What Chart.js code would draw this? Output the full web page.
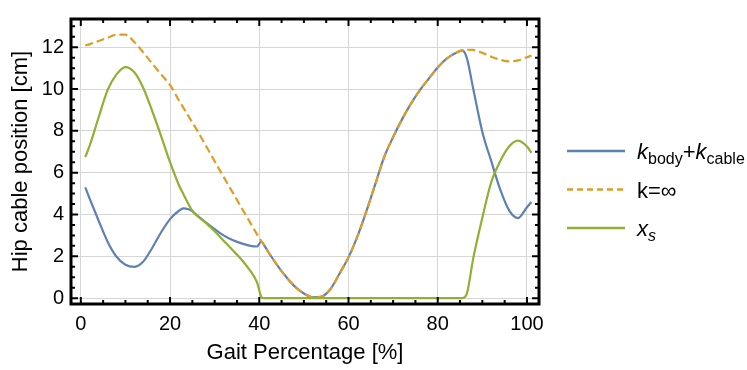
<!DOCTYPE html>
<html>
<head>
<meta charset="utf-8">
<script src="https://cdn.jsdelivr.net/npm/chart.js@4.4.1/dist/chart.umd.min.js"></script>
<style>
  html, body { margin: 0; background: #fff; }
</style>
</head>
<body>
<canvas id="chart" width="747" height="370"></canvas>
<script>
// gait percentage samples (shared x values)
const gait = [1, 2, 4, 6, 8, 10, 12, 14, 16, 18, 20, 22, 23, 24, 25, 26, 28, 30, 32, 34, 36, 38, 39.5, 40.5, 41,
  42, 44, 46, 48, 50, 52, 54, 56, 58, 60, 62, 64, 66, 68, 70, 72, 74, 76, 78, 80, 82, 84, 85.5, 86.5,
  88, 90, 92, 94, 96, 98, 100, 101];

// k_body + k_cable
const kBodyCable = [5.3, 4.75, 3.7, 2.7, 1.98, 1.6, 1.5, 1.75, 2.4, 3.15, 3.78, 4.18, 4.29, 4.26, 4.15, 3.97, 3.62, 3.3, 3.0, 2.78, 2.62, 2.5, 2.47, 2.72, 2.56,
  2.22, 1.58, 1.02, 0.55, 0.22, 0.04, 0.08, 0.45, 1.18, 1.95, 2.95, 4.15, 5.45, 6.75, 7.7, 8.55, 9.3, 9.95, 10.5, 11.03, 11.45, 11.72, 11.85, 11.5,
  9.97, 7.95, 6.55, 5.2, 4.2, 3.83, 4.35, 4.6];

// k = infinity
const kInf = [12.08, 12.15, 12.3, 12.45, 12.6, 12.6, 12.25, 11.75, 11.22, 10.7, 10.2, 9.45, 9.1, 8.75, 8.4, 8.05, 7.3, 6.55, 5.8, 5.07, 4.33, 3.6, 3.05, 2.72, 2.56,
  2.22, 1.58, 1.02, 0.55, 0.22, 0.04, 0.08, 0.45, 1.18, 1.95, 2.95, 4.15, 5.45, 6.75, 7.7, 8.55, 9.3, 9.95, 10.5, 11.03, 11.45, 11.72, 11.85, 11.88,
  11.87, 11.73, 11.55, 11.4, 11.32, 11.37, 11.52, 11.6];

// x_s
const xs = [6.75, 7.3, 8.65, 9.95, 10.7, 11.05, 10.8, 10.05, 8.95, 7.75, 6.5, 5.4, 4.97, 4.55, 4.18, 3.95, 3.6, 3.2, 2.75, 2.3, 1.85, 1.3, 0.75, 0.05, 0,
  0, 0, 0, 0, 0, 0, 0, 0, 0, 0, 0, 0, 0, 0, 0, 0, 0, 0, 0, 0, 0, 0, 0, 0.2,
  1.95, 3.85, 5.55, 6.55, 7.25, 7.53, 7.25, 6.95];

const xMajor = 20, xMinor = 5;
const yMajor = 2, yMinor = 0.5;

// legend: [text, style] pieces, style i = italic, s = subscript, si = italic subscript, n = normal
const legendBody = [['k', 'i'], ['body', 's'], ['+', 'n'], ['k', 'i'], ['cable', 's']];
const legendInf = [['k=∞', 'n']];
const legendXs = [['x', 'i'], ['s', 'si']];

const BLUE = '#5E81B5', ORANGE = '#E19C24', GREEN = '#8FB032';
const FONT = "'Liberation Sans', Arial, sans-serif";

const pts = arr => gait.map((g, i) => ({ x: g, y: arr[i] }));

const framePlugin = {
  id: 'frame',
  afterDatasetsDraw(chart) {
    const { ctx, chartArea: a, scales: { x, y } } = chart;
    ctx.save();
    ctx.strokeStyle = '#000';
    ctx.lineWidth = 2;
    ctx.beginPath();
    for (let v = 0; v <= 100; v += xMinor) {
      const px = x.getPixelForValue(v);
      const len = v % xMajor === 0 ? 7 : 4;
      ctx.moveTo(px, a.bottom); ctx.lineTo(px, a.bottom - len);
      ctx.moveTo(px, a.top); ctx.lineTo(px, a.top + len);
    }
    for (let v = 0; v <= 13; v += yMinor) {
      const py = y.getPixelForValue(v);
      const len = v % yMajor === 0 ? 7 : 4;
      ctx.moveTo(a.left, py); ctx.lineTo(a.left + len, py);
      ctx.moveTo(a.right, py); ctx.lineTo(a.right - len, py);
    }
    ctx.stroke();
    ctx.lineWidth = 3;
    ctx.strokeRect(a.left, a.top, a.right - a.left, a.bottom - a.top);
    ctx.restore();
  }
};

const legendPlugin = {
  id: 'mathLegend',
  afterDraw(chart) {
    const { ctx, chartArea: a } = chart;
    const items = [
      { color: BLUE, dash: [], parts: legendBody },
      { color: ORANGE, dash: [6, 4], parts: legendInf },
      { color: GREEN, dash: [], parts: legendXs }
    ];
    const x0 = a.right + 28, lineLen = 58, y0 = 151, step = 38.5;
    ctx.save();
    items.forEach((it, k) => {
      const ly = y0 + k * step;
      ctx.strokeStyle = it.color;
      ctx.lineWidth = 2.4;
      ctx.setLineDash(it.dash);
      ctx.beginPath();
      ctx.moveTo(x0, ly); ctx.lineTo(x0 + lineLen, ly);
      ctx.stroke();
      ctx.setLineDash([]);
      ctx.fillStyle = '#000';
      ctx.textBaseline = 'alphabetic';
      let tx = x0 + lineLen + 12;
      it.parts.forEach(([txt, st]) => {
        const sub = st === 's' || st === 'si';
        const ital = st === 'i' || st === 'si';
        ctx.font = (ital ? 'italic ' : '') + (sub ? '16px ' : '22px ') + FONT;
        ctx.fillText(txt, tx, ly + (sub ? 13 : 8));
        tx += ctx.measureText(txt).width;
      });
    });
    ctx.restore();
  }
};

new Chart(document.getElementById('chart'), {
  type: 'line',
  data: {
    datasets: [
      { label: 'kbody+kcable', data: pts(kBodyCable), borderColor: BLUE, order: 3 },
      { label: 'k=∞', data: pts(kInf), borderColor: ORANGE, borderDash: [8, 4], order: 2 },
      { label: 'xs', data: pts(xs), borderColor: GREEN, order: 1 }
    ]
  },
  options: {
    responsive: false,
    animation: false,
    layout: { padding: { top: 15, right: 208, left: 0, bottom: 0 } },
    elements: {
      line: { borderWidth: 2.2, fill: false, cubicInterpolationMode: 'monotone' },
      point: { radius: 0, hoverRadius: 0 }
    },
    plugins: { legend: { display: false }, tooltip: { enabled: false } },
    scales: {
      x: {
        type: 'linear', min: -2.2, max: 102.7,
        afterFit: s => { s.height = 66; },
        grid: { color: '#d6d6d6', drawTicks: false },
        border: { display: false },
        ticks: { stepSize: xMajor, includeBounds: false, padding: 8, color: '#000', maxRotation: 0,
          font: { family: FONT, size: 20 } },
        title: { display: true, text: 'Gait Percentage [%]', color: '#000',
          font: { family: FONT, size: 22 }, padding: { top: 0, bottom: 4 } }
      },
      y: {
        type: 'linear', min: -0.28, max: 13.35,
        afterFit: s => { s.width = 71; },
        grid: { color: '#d6d6d6', drawTicks: false },
        border: { display: false },
        ticks: { stepSize: yMajor, includeBounds: false, padding: 7, color: '#000',
          font: { family: FONT, size: 20 } },
        title: { display: true, text: 'Hip cable position [cm]', color: '#000',
          font: { family: FONT, size: 22 }, padding: { top: 8, bottom: 0 } }
      }
    }
  },
  plugins: [framePlugin, legendPlugin]
});
</script>
</body>
</html>
